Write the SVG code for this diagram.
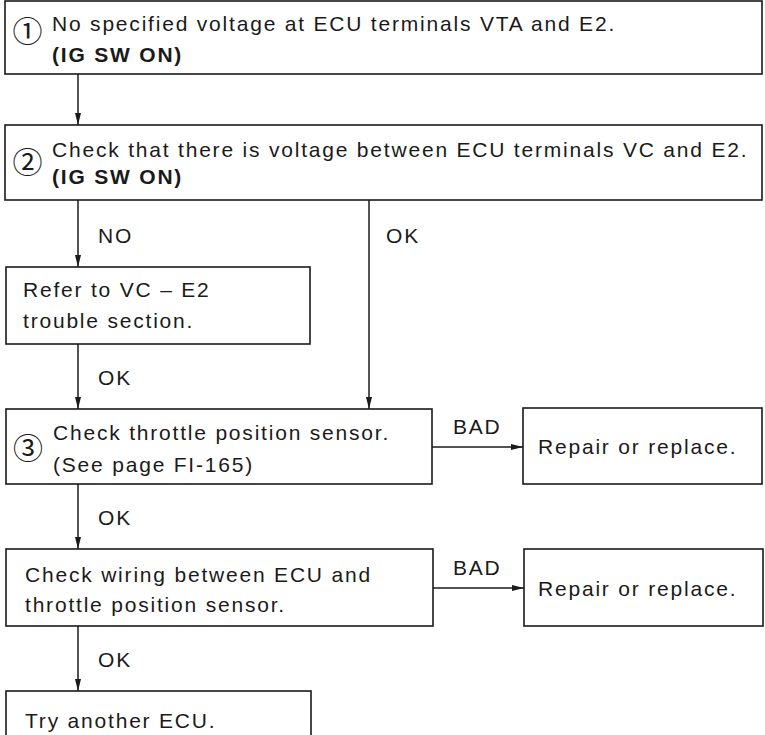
<svg xmlns="http://www.w3.org/2000/svg" width="765" height="735" viewBox="0 0 765 735">
<style>
.box{fill:#fff;stroke:#1a1a1a;stroke-width:1.6}
.t{font-family:"Liberation Sans",Arial,sans-serif;font-size:21px;letter-spacing:1.8px;fill:#1a1a1a}
.b{font-weight:bold}
.c{font-family:"Noto Sans CJK JP","DejaVu Sans",sans-serif;font-size:30px;fill:#1a1a1a;text-anchor:middle}
.ln{stroke:#1a1a1a;stroke-width:1.5;fill:none;marker-end:url(#ah)}
</style>
<defs>
<marker id="ah" viewBox="0 0 12 6" refX="12" refY="3" markerWidth="12" markerHeight="6" markerUnits="userSpaceOnUse" orient="auto">
<path d="M0,0 L12,3 L0,6 Z" fill="#1a1a1a"/>
</marker>
</defs>
<rect width="765" height="735" fill="#fff"/>
<g id="connectors">
<line class="ln" x1="78" y1="74" x2="78" y2="125"/>
<line class="ln" x1="78" y1="200" x2="78" y2="267"/>
<line class="ln" x1="78" y1="344" x2="78" y2="409"/>
<line class="ln" x1="369" y1="200" x2="369" y2="409"/>
<line class="ln" x1="78" y1="484" x2="78" y2="549"/>
<line class="ln" x1="78" y1="626" x2="78" y2="691"/>
<line class="ln" x1="432" y1="447" x2="523" y2="447"/>
<line class="ln" x1="433" y1="588" x2="524" y2="588"/>
<text class="t" x="98" y="243">NO</text>
<text class="t" x="386" y="243">OK</text>
<text class="t" x="98" y="385">OK</text>
<text class="t" x="98" y="525">OK</text>
<text class="t" x="453" y="434">BAD</text>
<text class="t" x="453" y="575">BAD</text>
<text class="t" x="98" y="667">OK</text>
</g>
<g id="n1">
<rect class="box" x="5" y="1" width="757" height="73"/>
<text class="c" x="27.5" y="41.5">①</text>
<text class="t" x="52" y="31">No specified voltage at ECU terminals VTA and E2.</text>
<text class="t b" x="52" y="62">(IG SW ON)</text>
</g>
<g id="n2">
<rect class="box" x="5" y="125" width="757" height="75"/>
<text class="c" x="27.5" y="173">②</text>
<text class="t" x="52" y="157">Check that there is voltage between ECU terminals VC and E2.</text>
<text class="t b" x="52" y="184">(IG SW ON)</text>
</g>
<g id="n_refer">
<rect class="box" x="6" y="267" width="304" height="77"/>
<text class="t" x="23" y="297">Refer to VC – E2</text>
<text class="t" x="23" y="328">trouble section.</text>
</g>
<g id="n3">
<rect class="box" x="6" y="409" width="426" height="75"/>
<text class="c" x="28" y="459">③</text>
<text class="t" x="53" y="440">Check throttle position sensor.</text>
<text class="t" x="53" y="472">(See page FI-165)</text>
</g>
<g id="n_repair1">
<rect class="box" x="523" y="408" width="239" height="76"/>
<text class="t" x="538" y="454">Repair or replace.</text>
</g>
<g id="n4">
<rect class="box" x="6" y="549" width="427" height="77"/>
<text class="t" x="25" y="582">Check wiring between ECU and</text>
<text class="t" x="25" y="612">throttle position sensor.</text>
</g>
<g id="n_repair2">
<rect class="box" x="524" y="549" width="239" height="77"/>
<text class="t" x="538" y="596">Repair or replace.</text>
</g>
<g id="n5">
<rect class="box" x="6" y="691" width="305" height="60"/>
<text class="t" x="25" y="728">Try another ECU.</text>
</g>
</svg>
